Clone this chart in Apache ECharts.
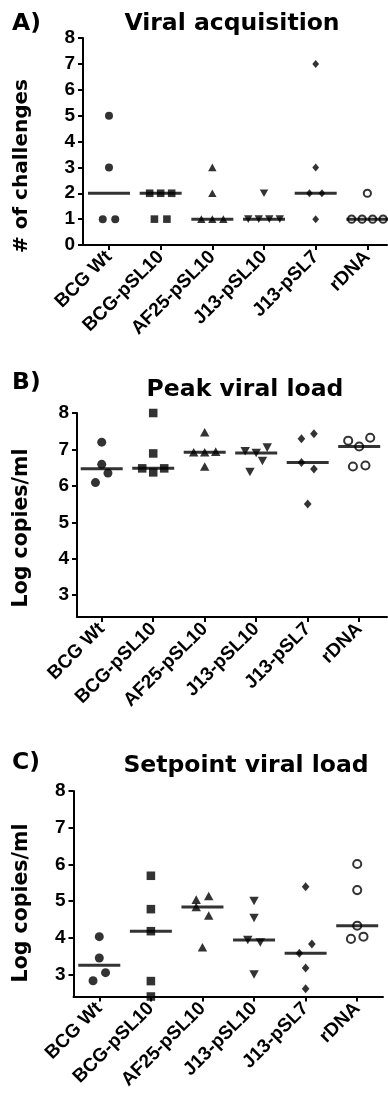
<!DOCTYPE html>
<html>
<head>
<meta charset="utf-8">
<script src="https://cdn.jsdelivr.net/npm/echarts@6/dist/echarts.min.js"></script>
<style>
html,body{margin:0;padding:0;background:#fff;}
#chart{width:388px;height:1098px;}
</style>
</head>
<body>
<div id="chart"></div>
<script>
// ---------- DATA ----------
const categories = ['BCG Wt', 'BCG-pSL10', 'AF25-pSL10', 'J13-pSL10', 'J13-pSL7', 'rDNA'];

// A) Viral acquisition (# of challenges), one array per group
const viralAcquisition = [
  [5, 3, 1, 1],
  [2, 2, 2, 1, 1],
  [3, 2, 1, 1, 1],
  [2, 1, 1, 1, 1],
  [7, 3, 2, 2, 1],
  [2, 1, 1, 1, 1]
];

// B) Peak viral load (log copies/ml)
const peakViralLoad = [
  [7.20, 6.59, 6.09, 6.35],
  [8.00, 6.89, 6.48, 6.37, 6.48],
  [7.47, 6.92, 6.92, 6.94, 6.53],
  [6.95, 6.90, 7.05, 6.38, 6.68],
  [7.29, 7.43, 6.64, 6.46, 5.50],
  [7.24, 7.08, 7.32, 6.53, 6.56]
];

// C) Setpoint viral load (log copies/ml)
const setpointViralLoad = [
  [4.03, 3.45, 2.83, 3.05],
  [5.69, 4.78, 4.18, 2.82, 2.40],
  [5.04, 4.84, 5.14, 4.61, 3.74],
  [5.00, 4.54, 3.94, 3.87, 3.00],
  [5.39, 3.58, 3.83, 3.18, 2.61],
  [6.01, 5.30, 4.33, 3.97, 4.03]
];

const yTicksA = [0, 1, 2, 3, 4, 5, 6, 7, 8];
const yTicksLog = [3, 4, 5, 6, 7, 8];
const xTicks = [0, 1, 2, 3, 4, 5];

// ---------- LAYOUT / STYLE ----------
const panels = [
  { tag: 'A)', heading: 'Viral acquisition', yName: '# of challenges', data: viralAcquisition,
    ymin: 0, ymax: 8, yticks: yTicksA,
    grid: { left: 83, top: 38, width: 304, height: 207 }, xmin: -0.503, xmax: 5.38,
    tagY: 24, headY: 24, headX: 232, yNameY: 166, yNameSize: 20, sym: 8 },
  { tag: 'B)', heading: 'Peak viral load', yName: 'Log copies/ml', data: peakViralLoad,
    ymin: 2.4, ymax: 8, yticks: yTicksLog,
    grid: { left: 77, top: 413, width: 310, height: 204 }, xmin: -0.48, xmax: 5.54,
    tagY: 383, headY: 390, headX: 245, yNameY: 528, yNameSize: 20.5, sym: 9 },
  { tag: 'C)', heading: 'Setpoint viral load', yName: 'Log copies/ml', data: setpointViralLoad,
    ymin: 2.4, ymax: 8, yticks: yTicksLog,
    grid: { left: 73.5, top: 791, width: 309.5, height: 205.5 }, xmin: -0.5, xmax: 5.5,
    tagY: 763, headY: 766, headX: 246, yNameY: 903, yNameSize: 20.5, sym: 9 }
];

const symbols = [
  { symbol: 'circle', rot: 0, hollow: false, k: [1, 1] },
  { symbol: 'rect', rot: 0, hollow: false, k: [0.95, 0.95] },
  { symbol: 'triangle', rot: 0, hollow: false, k: [1.05, 0.95] },
  { symbol: 'triangle', rot: 180, hollow: false, k: [1.05, 0.95] },
  { symbol: 'diamond', rot: 0, hollow: false, k: [0.85, 1.0] },
  { symbol: 'circle', rot: 0, hollow: true, k: [0.9, 0.9] }
];

const median = arr => {
  const s = arr.slice().sort((a, b) => a - b);
  const n = s.length;
  return n % 2 ? s[(n - 1) / 2] : (s[n / 2 - 1] + s[n / 2]) / 2;
};

// Column-scatter spreading (points of close value share a row, spread symmetrically)
function spread(values, pxPerY, pxPerX) {
  const idx = values.map((v, i) => i).sort((a, b) => values[a] - values[b] || a - b);
  const offs = new Array(values.length).fill(0);
  let i = 0;
  while (i < idx.length) {
    const first = values[idx[i]];
    const group = [idx[i]];
    let j = i + 1;
    while (j < idx.length && (values[idx[j]] - first) * pxPerY < 12) { group.push(idx[j]); j++; }
    group.sort((a, b) => a - b);
    const n = group.length;
    const step = n === 2 ? 12.5 : (n === 3 ? 11 : 10.5);
    group.forEach((g, k) => { offs[g] = (k - (n - 1) / 2) * step / pxPerX; });
    i = j;
  }
  return offs;
}

const grids = [], xAxes = [], yAxes = [], series = [], graphics = [];
const tickFont = { fontFamily: 'Liberation Sans, Arial, sans-serif', fontWeight: 'bold', fontSize: 19, color: '#000' };

panels.forEach((p, pi) => {
  grids.push(Object.assign({ containLabel: false }, p.grid));
  const pxPerY = p.grid.height / (p.ymax - p.ymin);
  const pxPerX = p.grid.width / (p.xmax - p.xmin);
  xAxes.push({
    type: 'value', gridIndex: pi, min: p.xmin, max: p.xmax,
    axisLine: { show: true, onZero: false, lineStyle: { color: '#000', width: 2 } },
    axisTick: { show: true, customValues: xTicks, length: 5, lineStyle: { color: '#000', width: 2 } },
    axisLabel: Object.assign({ customValues: xTicks, rotate: 45, margin: 9,
      formatter: v => categories[Math.round(v)] || '' }, tickFont),
    splitLine: { show: false }
  });
  yAxes.push({
    type: 'value', gridIndex: pi, min: p.ymin, max: p.ymax,
    axisLine: { show: true, onZero: false, lineStyle: { color: '#000', width: 2 } },
    axisTick: { show: true, customValues: p.yticks, length: 5, lineStyle: { color: '#000', width: 2 } },
    axisLabel: Object.assign({ customValues: p.yticks, margin: 8 }, tickFont),
    splitLine: { show: false }
  });

  // median bars
  series.push({
    type: 'scatter', xAxisIndex: pi, yAxisIndex: pi, silent: true, clip: false, z: 2,
    symbol: 'rect', symbolSize: [42, 3],
    itemStyle: { color: '#000' },
    data: p.data.map((g, ci) => [ci, median(g)])
  });

  p.data.forEach((g, ci) => {
    const offs = spread(g, pxPerY, pxPerX);
    const s = symbols[ci];
    series.push({
      type: 'scatter', xAxisIndex: pi, yAxisIndex: pi, silent: true, clip: false, z: 3,
      symbol: s.symbol, symbolRotate: s.rot,
      symbolSize: [p.sym * s.k[0], p.sym * s.k[1]],
      itemStyle: s.hollow
        ? { color: 'rgba(0,0,0,0)', borderColor: '#000', borderWidth: 2 }
        : { color: '#000' },
      data: g.map((v, k) => [ci + offs[k], v])
    });
  });

  const titleFont = 'bold 23.5px "DejaVu Sans", sans-serif';
  graphics.push({ type: 'text', x: 12, y: p.tagY,
    style: { text: p.tag, font: titleFont, fill: '#000', textAlign: 'left', textVerticalAlign: 'middle' } });
  graphics.push({ type: 'text', x: p.headX, y: p.headY,
    style: { text: p.heading, font: titleFont, fill: '#000', textAlign: 'center', textVerticalAlign: 'middle' } });
  graphics.push({ type: 'text', x: 22, y: p.yNameY, rotation: Math.PI / 2,
    style: { text: p.yName, font: 'bold ' + p.yNameSize + 'px "DejaVu Sans", sans-serif', fill: '#000',
      textAlign: 'center', textVerticalAlign: 'middle' } });
});

const chart = echarts.init(document.getElementById('chart'), null, { renderer: 'canvas' });
chart.setOption({
  animation: false,
  backgroundColor: '#fff',
  grid: grids,
  xAxis: xAxes,
  yAxis: yAxes,
  series: series,
  graphic: { elements: graphics }
});
</script>
</body>
</html>
